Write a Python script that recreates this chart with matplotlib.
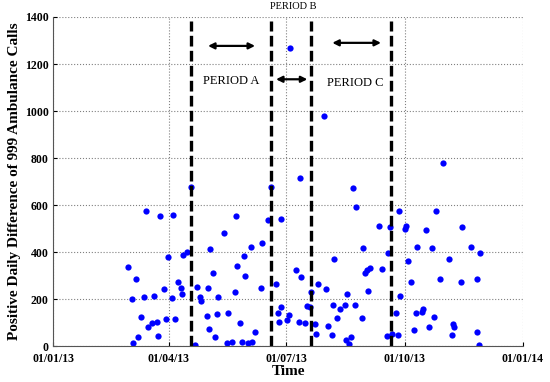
import numpy as np
import matplotlib
matplotlib.use("Agg")
import matplotlib.pyplot as plt

plt.rcParams['font.family'] = ['Liberation Serif', 'DejaVu Serif']

# days after 01/01/2013 and positive daily difference of 999 calls
day = [58.5, 61.1, 62.1, 64.2, 66.2, 68.3, 70.9, 72.2, 73.5, 77.1,
       78.2, 80.8, 81.3, 83.3, 86.0, 87.5, 89.5, 92.2, 93.2, 94.5,
       97.3, 99.2, 100.4, 101.2, 104.3, 107.2,
       110.3, 112.1, 114.4, 115.2, 119.6, 120.6, 121.1, 122.2, 124.3, 126.0,
       127.1, 128.4, 133.0, 135.1, 136.1, 139.0, 141.1, 142.1, 143.1, 145.5,
       146.5, 148.3, 149.3, 151.7, 153.5, 154.3, 156.6, 161.8, 162.1, 167.2,
       169.3,
       173.2, 174.5, 175.7, 176.8, 177.3, 181.9, 183.3, 184.4, 188.5, 190.8,
       191.8, 192.4, 195.5, 197.0, 199.3,
       200.6, 203.5, 204.5, 205.6, 210.5, 212.2, 213.6, 216.7, 217.2, 218.4,
       220.6, 222.6, 226.8, 227.8, 228.6, 229.9, 231.7, 232.6, 234.5, 235.5,
       239.6, 240.5, 242.5, 244.1, 245.9, 244.6, 253.4, 255.7, 259.5, 260.4,
       261.7,
       263.5, 266.6, 267.8, 268.5, 269.6, 273.4, 274.5, 275.7, 278.2, 280.5,
       281.7, 282.7, 286.9, 287.7, 289.3, 291.8, 294.5, 295.6, 297.8, 300.5,
       302.9, 307.7, 309.6, 310.4, 311.6, 316.8, 317.9, 324.4, 328.9, 329.4,
       330.8, 331.8]
calls = [337, 201, 11, 284, 37, 125, 207, 576, 80, 97,
         213, 103, 44, 554, 241, 116, 377, 204, 559, 116,
         271, 246, 223, 386, 400, 675,
         4, 252, 209, 193, 129, 247, 74, 414, 311, 37,
         136, 210, 480, 13, 139, 16, 229, 554, 342, 98,
         18, 383, 298, 11, 420, 16, 58, 247, 437, 536,
         675,
         264, 139, 101, 165, 539, 111, 131, 1267, 323, 103,
         717, 292, 97, 170, 167,
         229, 94, 51, 265, 977, 244, 85, 46, 176, 369,
         118, 159, 173, 26, 223, 10, 40, 674, 173, 591,
         119, 417, 312, 323, 332, 235, 509, 328, 43, 397,
         506,
         53, 139, 47, 573, 213, 500, 509, 360, 271, 70,
         139, 423, 146, 159, 493, 82, 416, 123, 574, 284,
         780, 371, 46, 93, 83, 271, 506, 420, 286, 58,
         3, 394]

# period boundaries (days after 01/01/2013)
bounds = [107.2, 169.3, 200.3, 262.3]
tick_dates = ['2013-01-01', '2013-04-01', '2013-07-01', '2013-10-01', '2014-01-01']
tick_labels = ['01/01/13', '01/04/13', '01/07/13', '01/10/13', '01/01/14']

start = np.datetime64('2013-01-01T00:00')
def to_date(d):
    return start + (np.array(d) * 24 * 60).astype('timedelta64[m]')

fig = plt.figure(figsize=(5.5, 3.82), dpi=100)
ax = fig.add_axes([0.0964, 0.0942, 0.8545, 0.8613])

ax.plot(to_date(day), calls, 'o', color='blue', markersize=4.5, markeredgewidth=0)

for b in bounds:
    x = to_date(b)
    ax.plot([x, x], [0, 1385], '--', color='black', linewidth=2.4, dashes=(3.2, 1.3))

# period arrows
arrows = [(120.4, 156.9, 1277), (173.2, 197.5, 1135), (216.9, 254.7, 1290)]
for a, b, y in arrows:
    ax.annotate('', xy=(to_date(a), y), xytext=(to_date(b), y),
                arrowprops=dict(arrowstyle='<|-|>', color='black', lw=1.6,
                                mutation_scale=9, shrinkA=0, shrinkB=0))

ax.text(to_date(138.0), 1128, 'PERIOD A', ha='center', va='center', fontsize=9)
ax.text(to_date(235.0), 1120, 'PERIOD C', ha='center', va='center', fontsize=9)
ax.text(to_date(186.8), 1443, 'PERIOD B', ha='center', va='center', fontsize=7.5,
        clip_on=False)

ax.set_xlim(to_date(0), to_date(365))
ax.set_ylim(0, 1400)
ax.set_xticks([np.datetime64(t) for t in tick_dates])
ax.set_xticklabels(tick_labels)
ax.set_yticks(np.arange(0, 1401, 200))

for lab in ax.get_xticklabels() + ax.get_yticklabels():
    lab.set_fontweight('bold')
    lab.set_fontsize(8.5)
ax.tick_params(direction='in', length=3)
ax.tick_params(axis='x', pad=5)
ax.tick_params(axis='y', pad=3)

ax.grid(True, linestyle=':', color='gray', linewidth=0.8)
ax.spines['top'].set_visible(False)
ax.spines['right'].set_visible(False)
ax.spines['left'].set_color('#555555')
ax.spines['bottom'].set_color('#555555')

ax.set_xlabel('Time', fontsize=11, fontweight='bold', labelpad=0)
ax.set_ylabel('Positive Daily Difference of 999 Ambulance Calls', fontsize=11,
              fontweight='bold', labelpad=3)

fig.savefig('out.png', dpi=100)
